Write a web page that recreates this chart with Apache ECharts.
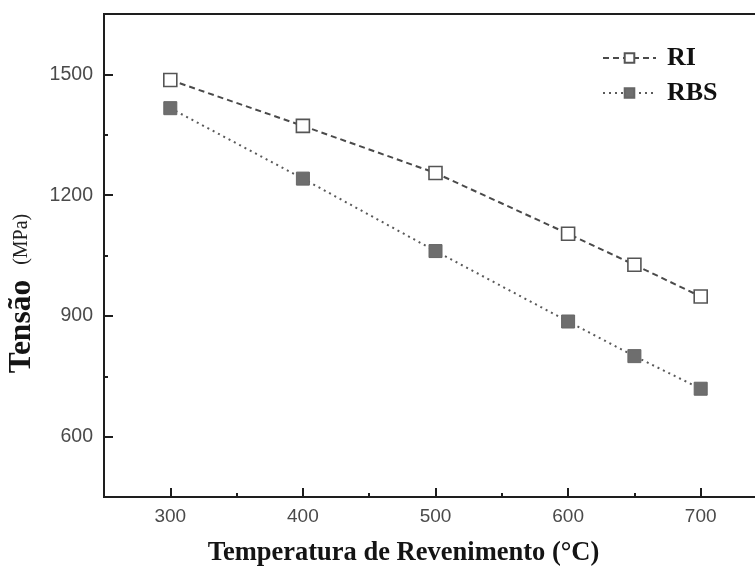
<!DOCTYPE html>
<html>
<head>
<meta charset="utf-8">
<script src="https://cdn.jsdelivr.net/npm/echarts@6/dist/echarts.min.js"></script>
<style>
  html, body { margin: 0; padding: 0; background: #fff; }
  #chart { width: 755px; height: 573px; }
</style>
</head>
<body>
<div id="chart"></div>
<script>
// Tempering temperature (°C) and strength (MPa) for the two measured properties
const temperatures = [300, 400, 500, 600, 650, 700];
const riValues = [1486, 1372, 1255, 1104, 1027, 948];
const rbsValues = [1416, 1241, 1061, 886, 800, 719];

// Labelled (major) tick values on each axis
const xMajorTicks = [300, 400, 500, 600, 700];
const yMajorTicks = [600, 900, 1200, 1500];

const seriesNames = ['RI', 'RBS'];

const serif = '"Liberation Serif", "Times New Roman", serif';
const sans = '"Liberation Sans", Arial, sans-serif';
const axisColor = '#1e1e1e';

const xRange = { min: 250, max: 750 };
const yRange = { min: 450, max: 1650 };

function pairs(xs, ys) {
  return xs.map((x, i) => [x, ys[i]]);
}

const plainNumber = (v) => String(v);

const chart = echarts.init(document.getElementById('chart'), null, { renderer: 'canvas' });

const option = {
  animation: false,
  backgroundColor: '#fff',
  grid: {
    // the frame runs past the right edge of the canvas
    left: 104, top: 14, width: 663, bottom: 76,
    outerBoundsMode: 'none', containLabel: false,
    show: true, borderColor: axisColor, borderWidth: 2, backgroundColor: 'transparent'
  },
  legend: {
    orient: 'vertical',
    left: 597, top: 40,
    itemWidth: 53, itemHeight: 12, itemGap: 9,
    data: seriesNames,
    textStyle: { fontFamily: serif, fontWeight: 'bold', fontSize: 26, color: '#111', padding: [0, 0, 0, 6] }
  },
  xAxis: [
    {
      // short ticks (every 100 from the left edge) and the labels
      type: 'value', position: 'bottom',
      min: xRange.min, max: xRange.max, interval: 100,
      axisLine: { show: true, lineStyle: { color: axisColor, width: 2 } },
      axisTick: { show: true, inside: true, length: 4, lineStyle: { color: axisColor, width: 2 } },
      axisLabel: {
        customValues: xMajorTicks, margin: 10, formatter: plainNumber,
        fontFamily: sans, fontSize: 19, color: '#4a4a4a'
      },
      splitLine: { show: false },
      name: '{t|Temperatura de Revenimento (°C)}{g|}',
      nameLocation: 'middle', nameGap: 41,
      nameTextStyle: {
        rich: {
          t: { fontFamily: serif, fontWeight: 'bold', fontSize: 26.5, color: '#141414', lineHeight: 30 },
          g: { width: 64 }
        }
      }
    },
    {
      // long ticks at the labelled values
      type: 'value', position: 'bottom',
      min: xRange.min, max: xRange.max,
      axisLine: { show: false },
      axisTick: { show: true, inside: true, length: 9, customValues: xMajorTicks, lineStyle: { color: axisColor, width: 2 } },
      axisLabel: { show: false },
      splitLine: { show: false }
    }
  ],
  yAxis: [
    {
      type: 'value', position: 'left',
      min: yRange.min, max: yRange.max, interval: 300,
      axisLine: { show: true, lineStyle: { color: axisColor, width: 2 } },
      axisTick: { show: true, inside: true, length: 4, lineStyle: { color: axisColor, width: 2 } },
      axisLabel: {
        customValues: yMajorTicks, margin: 11, formatter: plainNumber,
        fontFamily: sans, fontSize: 19.5, color: '#4a4a4a'
      },
      splitLine: { show: false },
      name: '{t|Tensão}{s|   (MPa)}{g|}',
      nameLocation: 'middle', nameGap: 66, nameRotate: 90,
      nameTextStyle: {
        rich: {
          t: { fontFamily: serif, fontWeight: 'bold', fontSize: 31.5, color: '#141414' },
          s: { fontFamily: serif, fontSize: 20, color: '#222' },
          g: { width: 76 }
        }
      }
    },
    {
      type: 'value', position: 'left',
      min: yRange.min, max: yRange.max,
      axisLine: { show: false },
      axisTick: { show: true, inside: true, length: 9, customValues: yMajorTicks, lineStyle: { color: axisColor, width: 2 } },
      axisLabel: { show: false },
      splitLine: { show: false }
    }
  ],
  series: [
    {
      name: seriesNames[0], type: 'line',
      xAxisIndex: 0, yAxisIndex: 0,
      data: pairs(temperatures, riValues),
      symbol: 'rect', symbolSize: 13,
      lineStyle: { color: '#4a4a4a', width: 2, type: [6, 4] },
      itemStyle: { color: '#fff', borderColor: '#555', borderWidth: 1.6 },
      z: 3
    },
    {
      name: seriesNames[1], type: 'line',
      xAxisIndex: 0, yAxisIndex: 0,
      data: pairs(temperatures, rbsValues),
      symbol: 'rect', symbolSize: 13,
      lineStyle: { color: '#5a5a5a', width: 2, type: [2, 4] },
      itemStyle: { color: '#6e6e6e', borderColor: '#666', borderWidth: 1 },
      z: 3
    }
  ]
};

chart.setOption(option);
</script>
</body>
</html>
